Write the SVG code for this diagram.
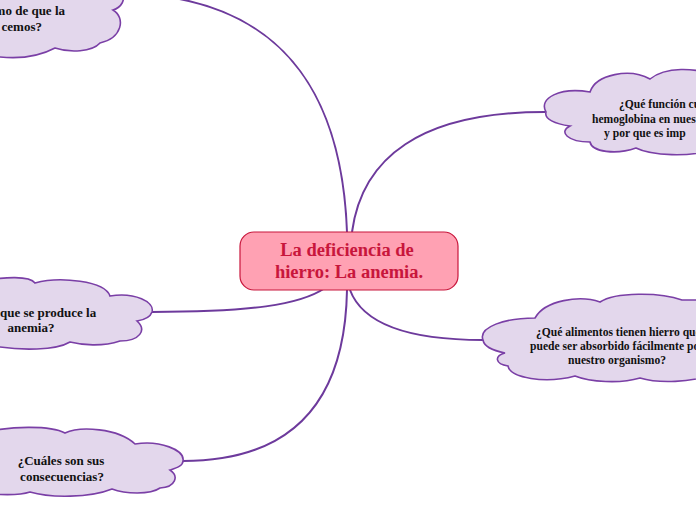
<svg xmlns="http://www.w3.org/2000/svg" width="696" height="520" viewBox="0 0 696 520">
<style>
.conn{fill:none;stroke:#6d3a9c;stroke-width:2}
.cloud{fill:#e3d7ec;stroke:#7a3fa6;stroke-width:1.6}
.ct{font-family:"Liberation Serif","Times New Roman",serif;font-weight:bold;font-size:13px;fill:#111}
.cr{font-size:11.6px}
.main{fill:#ffa1b3;stroke:#c8163c;stroke-width:1.2}
.mt{font-family:"Liberation Serif","Times New Roman",serif;font-weight:bold;font-size:18.5px;fill:#c8163c;text-anchor:middle}
</style>
<rect width="696" height="520" fill="#ffffff"/>
<g id="connectors">
<path class="conn" d="M347,232 C342,95 285,15 168,-3"/>
<path class="conn" d="M352,232 C362,158 420,112 545,112"/>
<path class="conn" d="M350,290 C362,322 405,340 483,340"/>
<path class="conn" d="M325,288 C300,305 250,312 152,312"/>
<path class="conn" d="M347,290 C345,405 290,461 183,461"/>
</g>
<g id="node-top-left">
<path class="cloud" d="M-20,-10 L120,-10 C128,0 120,8 113,10 C126,18 122,38 100,43 C92,52 70,53 55,48 C40,56 20,59 0,57 L-20,57 Z"/>
<text class="ct" x="65" y="15" text-anchor="end">mo de que la</text>
<text class="ct" x="42" y="31" text-anchor="end">cemos?</text>
</g>
<g id="node-top-right">
<path class="cloud" d="M546,112 C538,98 560,87 590,92 C596,74 630,68 650,79 C666,66 696,68 712,75 L712,150 C690,157 652,156 636,148 C616,155 592,152 590,142 C568,142 558,132 570,126 C555,124 544,119 546,112 Z"/>
<text class="ct cr" x="619" y="108">¿Qué función cu</text>
<text class="ct cr" x="592" y="122.5">hemoglobina en nuest</text>
<text class="ct cr" x="604" y="137">y por que es imp</text>
</g>
<g id="node-center">
<rect class="main" x="240" y="232" width="218" height="58" rx="14"/>
<text class="mt" x="347" y="256">La deficiencia de</text>
<text class="mt" x="349" y="278">hierro: La anemia.</text>
</g>
<g id="node-bottom-right">
<path class="cloud" d="M483,340 C478,327 505,318 535,318 C545,300 580,295 600,302 C615,292 660,292 682,300 L712,300 L712,375 C690,382 660,384 640,378 C620,384 590,382 575,376 C545,384 510,378 508,366 C495,364 494,356 505,353 C490,350 484,346 483,340 Z"/>
<text class="ct cr" x="536" y="336">¿Qué alimentos tienen hierro que</text>
<text class="ct cr" x="530" y="350">puede ser absorbido fácilmente po</text>
<text class="ct cr" x="568" y="363.5">nuestro  organismo?</text>
</g>
<g id="node-left-middle">
<path class="cloud" d="M-20,282 C5,276 30,276 35,283 C60,276 105,281 110,296 C135,292 155,302 152,312 C150,318 143,320 137,321 C147,330 140,341 120,341 C102,347 82,345 70,342 C55,351 20,350 0,347 L-20,347 Z"/>
<text class="ct" x="0" y="317">que se produce la</text>
<text class="ct" x="31" y="332" text-anchor="middle">anemia?</text>
</g>
<g id="node-bottom-left">
<path class="cloud" d="M-20,433 C10,426 50,425 65,433 C80,426 118,428 135,444 C160,440 185,450 183,461 C183,466 176,468 170,470 C179,476 176,487 160,488 C150,495 125,494 112,489 C90,498 50,498 30,492 C18,496 0,495 -20,493 Z"/>
<text class="ct" x="61" y="465" text-anchor="middle">¿Cuáles son sus</text>
<text class="ct" x="62" y="481" text-anchor="middle">consecuencias?</text>
</g>
</svg>
